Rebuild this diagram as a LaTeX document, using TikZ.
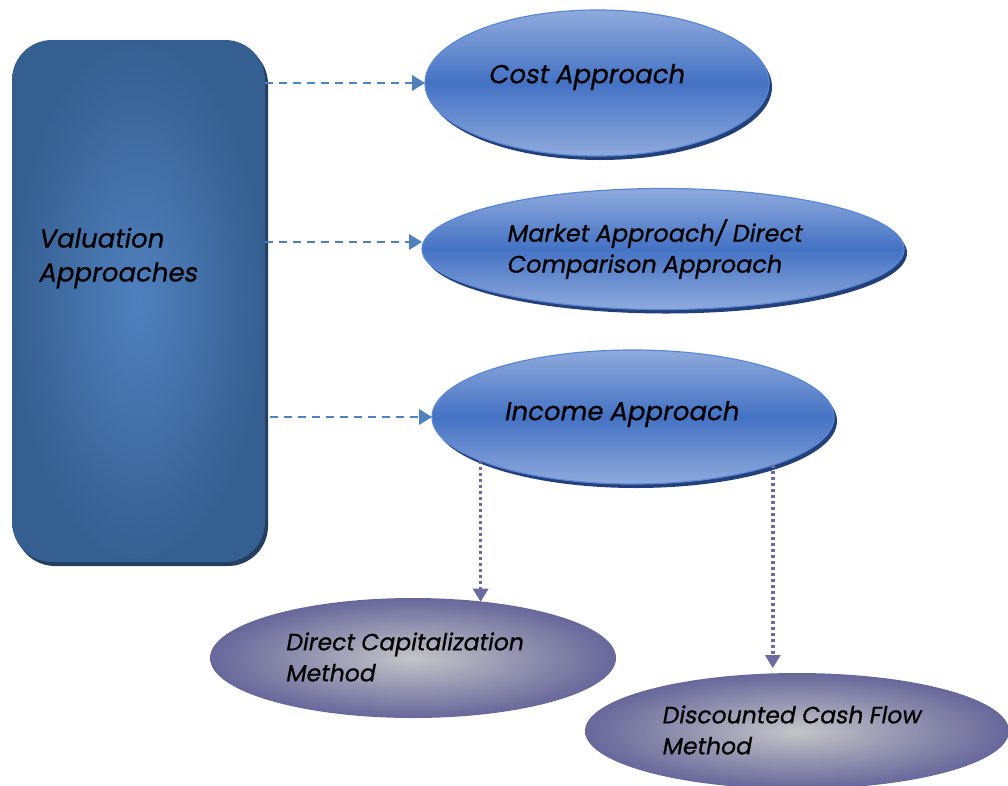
\documentclass[tikz,border=0pt]{standalone}
\usepackage{fontspec}
\setmainfont{Poppins}[FakeSlant=0.18, FakeBold=0.7]
\usetikzlibrary{arrows.meta,shadows,shapes.geometric}

\definecolor{boxOuter}{HTML}{365F91}
\definecolor{boxInner}{HTML}{4F80BE}
\definecolor{boxShadow}{HTML}{243F60}
\definecolor{ellMid}{HTML}{4472C4}
\definecolor{ellLight}{HTML}{8FAADC}
\definecolor{ellLine}{HTML}{5A88D6}
\definecolor{ellShadow}{HTML}{23407A}
\definecolor{purEdge}{HTML}{67679B}
\definecolor{purCore}{HTML}{C4C4C8}
\definecolor{dashBlue}{HTML}{4F81BD}
\definecolor{dotPurple}{HTML}{6B6BA0}

\tikzset{
  vabox/.style={rectangle, rounded corners=40pt, minimum width=253pt,
    minimum height=522pt, inner sep=0pt, outer sep=0pt,
    shading=radial, inner color=boxInner, outer color=boxOuter,
    general shadow={fill=boxShadow, shadow xshift=3pt, shadow yshift=-4pt}},
  blueell/.style={ellipse, inner sep=0pt, outer sep=0pt, draw=ellLine,
    line width=1.2pt, shading=axis, top color=ellLight, bottom color=ellLight,
    middle color=ellMid,
    general shadow={fill=ellShadow, shadow xshift=3pt, shadow yshift=-4pt}},
  purell/.style={ellipse, inner sep=0pt, outer sep=0pt, shading=radial,
    inner color=purCore, outer color=purEdge},
  lbl/.style={inner sep=0pt, align=left},
  dasharrow/.style={draw=dashBlue, line width=2.8pt, dash pattern=on 8pt off 6pt,
    -{Triangle[length=13pt,width=16pt,fill=dashBlue,line width=0pt]}},
  dotarrow/.style={draw=dotPurple, line width=3.5pt, dash pattern=on 3pt off 3pt,
    -{Triangle[length=13pt,width=16pt,fill=dotPurple,line width=0pt]}},
  bigtxt/.style={font=\fontsize{26}{34}\selectfont},
  midtxt/.style={font=\fontsize{24}{31}\selectfont},
  smalltxt/.style={font=\fontsize{23.5}{31}\selectfont}
}

\begin{document}
\begin{tikzpicture}[x=1pt,y=-1pt]
\useasboundingbox (0,0) rectangle (1008,785);

% left block
\node[vabox] (va) at (138.5,301) {};
\node[lbl, bigtxt, anchor=west] (vatext) at (38,258) {Valuation\\Approaches};

% the three approaches
\node[blueell, minimum width=344pt, minimum height=146pt] (cost) at (597,83) {};
\node[blueell, minimum width=482pt, minimum height=121pt] (market) at (663,249) {};
\node[blueell, minimum width=402pt, minimum height=134pt] (income) at (633,417) {};
\node[lbl, bigtxt] (costtext) at (586,77) {Cost Approach};
\node[lbl, midtxt] (markettext) at (654,249)
  {Market Approach/ Direct\\Comparison Approach};
\node[lbl, bigtxt] (incometext) at (621,414) {Income Approach};

% income methods
\node[purell, minimum width=406pt, minimum height=120pt] (dcm) at (413,658) {};
\node[purell, minimum width=424pt, minimum height=116pt] (dcf) at (797,731) {};
\node[lbl, smalltxt] (dcmtext) at (404,657) {Direct Capitalization\\Method};
\node[lbl, smalltxt] (dcftext) at (791,730) {Discounted Cash Flow\\Method};

% connectors
\draw[dasharrow] (va.east |- cost.west) -- (cost.west);
\draw[dasharrow] (va.east |- 0,242) -- (market.west |- 0,242);
\draw[dasharrow] ([xshift=5pt]va.east |- income.west) -- (income.west);
\draw[dotarrow] (income.196.7) -- (income.196.7 |- dcm.39);
\draw[dotarrow, shorten >=5pt] (income.341.2) -- (income.341.2 |- dcf.north);
\end{tikzpicture}
\end{document}
